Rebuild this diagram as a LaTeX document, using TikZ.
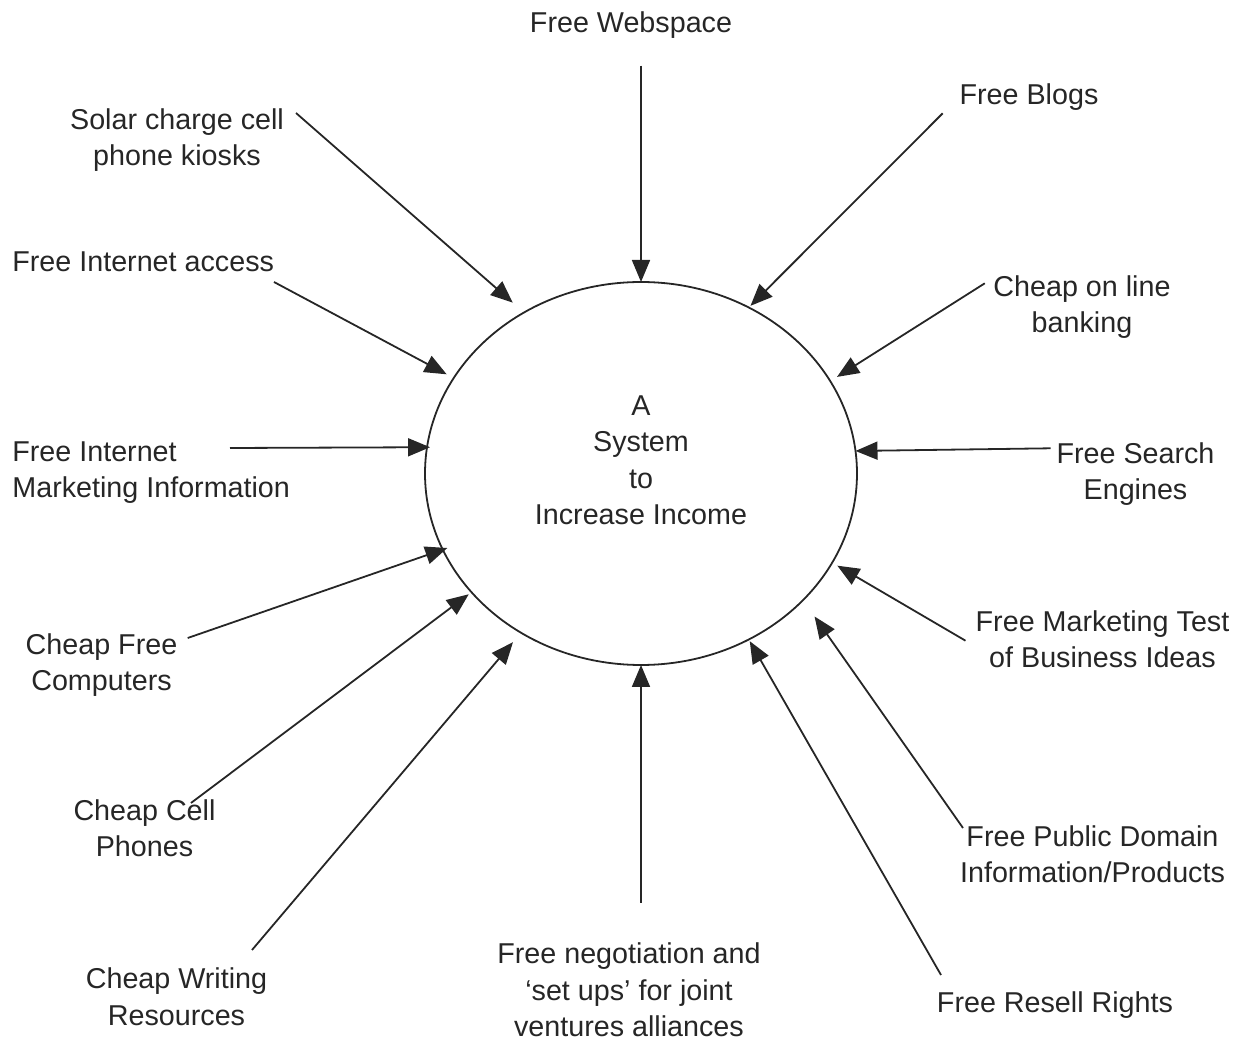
\documentclass[tikz,border=0pt]{standalone}
\usepackage{fontspec}
\setmainfont{Liberation Sans}
\usetikzlibrary{shapes.geometric, arrows.meta}

\definecolor{ink}{HTML}{262626}

\begin{document}
\begin{tikzpicture}[
        x=0.5pt, y=-0.5pt,
        every node/.style={font=\fontsize{14.35}{18.3}\selectfont, text=ink},
        lbl/.style={inner sep=0pt, align=center, anchor=base},
        hub/.style={ellipse, draw=ink, line width=0.9pt, minimum width=216pt, minimum height=191.5pt, inner sep=0pt, outer sep=0pt},
        arrow/.style={-{Triangle[length=11pt, width=9pt]}, draw=ink, line width=0.9pt}
    ]
    \useasboundingbox (0,0) rectangle (1249,1042);

    % Hub (base = last line)
    \node[hub] (sys) at (641,473.5) {};
    \node[lbl] (systxt) at (641,525) {A\\System\\to\\Increase Income};

    % Labels
    \node[lbl] (web) at (631,33) {Free Webspace};
    \node[lbl] (blogs) at (1029,105) {Free Blogs};
    \node[lbl] (bank) at (1082,333) {Cheap on line\\banking};
    \node[lbl] (search) at (1135.5,500) {Free Search\\Engines};
    \node[lbl] (mtest) at (1102.5,668) {Free Marketing Test\\of Business Ideas};
    \node[lbl] (pubdom) at (1092.5,882.7) {Free Public Domain\\Information/Products};
    \node[lbl] (resell) at (1055,1012.7) {Free Resell Rights};
    \node[lbl] (negot) at (629,1036.7) {Free negotiation and\\‘set ups’ for joint\\ventures alliances};
    \node[lbl] (writing) at (176.5,1025) {Cheap Writing\\Resources};
    \node[lbl] (cell) at (144.5,857) {Cheap Cell\\Phones};
    \node[lbl] (comp) at (101.5,691) {Cheap Free\\Computers};
    \node[lbl, align=left, anchor=base west] (imark) at (12,498) {Free Internet\\Marketing Information};
    \node[lbl, align=left, anchor=base west] (iacc) at (12,272) {Free Internet access};
    \node[lbl] (solar) at (177,166) {Solar charge cell\\phone kiosks};

    % Tails
    \coordinate (web-t) at (641,65.7);
    \coordinate (blogs-t) at (942.7,113.3);
    \coordinate (bank-t) at (984.8,283.3);
    \coordinate (search-t) at (1050.6,448.3);
    \coordinate (mtest-t) at (965.5,640.7);
    \coordinate (pubdom-t) at (963,828);
    \coordinate (resell-t) at (941,975);
    \coordinate (negot-t) at (641,902.7);
    \coordinate (writing-t) at (252,950);
    \coordinate (cell-t) at (191,803);
    \coordinate (comp-t) at (187.7,638);
    \coordinate (imark-t) at (230,448);
    \coordinate (iacc-t) at (274,282);
    \coordinate (solar-t) at (296,113);

    % Arrows
    \draw[arrow] (web-t) -- (sys.north);
    \draw[arrow, shorten >=1.2pt] (blogs-t) -- (sys.57.6);
    \draw[arrow, shorten >=4pt] (bank-t) -- (sys.26.3);
    \draw[arrow] (search-t) -- (sys.6.4);
    \draw[arrow, shorten >=3pt] (mtest-t) -- (sys.-25.8);
    \draw[arrow, shorten >=10pt] (pubdom-t) -- (sys.-38.3);
    \draw[arrow, shorten >=1pt] (resell-t) -- (sys.-57.3);
    \draw[arrow] (negot-t) -- (sys.south);
    \draw[arrow, shorten >=6.2pt] (writing-t) -- (sys.-127.7);
    \draw[arrow, shorten >=1.7pt] (cell-t) -- (sys.-145.5);
    \draw[arrow, shorten >=-2.4pt] (comp-t) -- (sys.-159.9);
    \draw[arrow, shorten >=-1.5pt] (imark-t) -- (sys.173.2);
    \draw[arrow, shorten >=4pt] (iacc-t) -- (sys.153.3);
    \draw[arrow, shorten >=7.5pt] (solar-t) -- (sys.126.8);

\end{tikzpicture}
\end{document}
